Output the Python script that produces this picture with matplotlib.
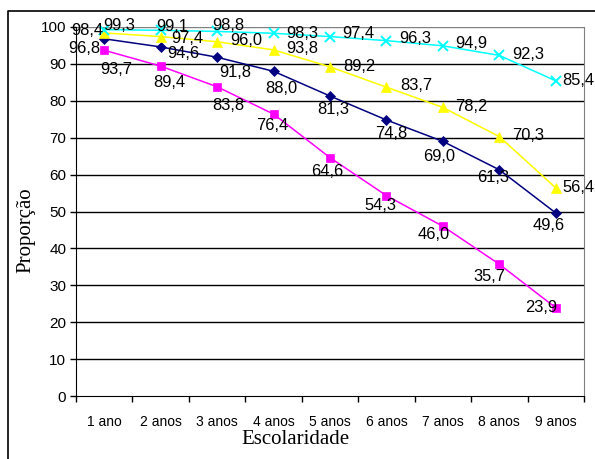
import matplotlib
matplotlib.use("Agg")
import matplotlib.pyplot as plt
from matplotlib.lines import Line2D

categories = ["1 ano", "2 anos", "3 anos", "4 anos", "5 anos", "6 anos", "7 anos", "8 anos", "9 anos"]
navy_vals = [96.8, 94.6, 91.8, 88.0, 81.3, 74.8, 69.0, 61.3, 49.6]
magenta_vals = [93.7, 89.4, 83.8, 76.4, 64.6, 54.3, 46.0, 35.7, 23.9]
yellow_vals = [98.4, 97.4, 96.0, 93.8, 89.2, 83.7, 78.2, 70.3, 56.4]
cyan_vals = [99.3, 99.1, 98.8, 98.3, 97.4, 96.3, 94.9, 92.3, 85.4]
yticks = [0, 10, 20, 30, 40, 50, 60, 70, 80, 90, 100]

# label offsets in pixels (dx, dy with dy positive downward)
navy_off = [(-20, 10), (23, 7), (18, 15), (8, 17), (3, 13), (5, 14), (-4, 15), (-6, 8), (-7, 13)]
magenta_off = [(12, 19), (9, 16), (11, 19), (-1, 11), (-3, 14), (-6, 10), (-9, 8), (-10, 12), (-15, 0)]
yellow_off = [(-17, -2), (27, 2), (29, -1), (29, -1), (29, 0), (30, -2), (28, -1), (29, -1), (23, 0)]
cyan_off = [(15, -4), (12, -4), (11, -6), (29, 0), (28, -3), (29, -2), (28, -2), (29, -1), (23, 0)]

W, H = 595, 459
fig = plt.figure(figsize=(W / 100, H / 100), dpi=100)
fig.patch.set_facecolor("white")
ax = fig.add_axes([76 / W, (H - 396) / H, 508 / W, 369 / H])

x = list(range(len(categories)))
series = [
    (navy_vals, "#000080", "D", 5, navy_off),
    (magenta_vals, "#FF00FF", "s", 5.5, magenta_off),
    (yellow_vals, "#FFFF00", "^", 7, yellow_off),
    (cyan_vals, "#00FFFF", "x", 6.5, cyan_off),
]

for ax_y in yticks[1:]:
    ax.axhline(ax_y, color="#000000" if ax_y < 100 else "#808080", lw=1.0, zorder=1)

for vals, col, mk, ms, offs in series:
    ax.plot(x, vals, color=col, lw=1.1, marker=mk, markersize=ms,
            markeredgewidth=1.4 if mk == "x" else 0.5, markeredgecolor=col,
            markerfacecolor=col, zorder=3, clip_on=False)
    for xi, v, (dx, dy) in zip(x, vals, offs):
        ax.annotate(f"{v:.1f}".replace(".", ","), (xi, v), xytext=(dx, -dy),
                    textcoords="offset pixels", ha="center", va="center",
                    fontsize=11.9, family="Liberation Sans", color="black",
                    zorder=5, annotation_clip=False)

ax.set_xlim(-0.5, len(categories) - 0.5)
ax.set_ylim(0, 100)
ax.set_xticks([i - 0.5 for i in range(len(categories) + 1)])
ax.set_xticklabels([])
ax.set_xticks(x, minor=True)
ax.set_xticklabels(categories, minor=True, fontsize=10, family="Liberation Sans")
ax.tick_params(axis="x", which="major", direction="out", length=4, width=1)
ax.tick_params(axis="x", which="minor", length=0, pad=14)
ax.set_yticks(yticks)
ax.set_yticklabels([str(t) for t in yticks], fontsize=11, family="Liberation Sans")
ax.tick_params(axis="y", direction="out", length=4, width=1, pad=3)

ax.spines["top"].set_visible(False)
ax.spines["right"].set_color("#808080")
ax.spines["left"].set_color("black")
ax.spines["bottom"].set_color("black")

fig.text(295 / W, 1 - 439 / H, "Escolaridade", ha="center", va="center",
         fontsize=15, family="Liberation Serif")
fig.text(26 / W, 1 - 230 / H, "Proporção", ha="center", va="center",
         rotation=90, fontsize=15, family="Liberation Serif")

# chart area border
fig.add_artist(Line2D([7.5 / W, 7.5 / W, 1.01], [-0.01, 1 - 10.5 / H, 1 - 10.5 / H],
                      transform=fig.transFigure, color="black", lw=1.2))

fig.savefig("out.png", dpi=100, facecolor="white")
